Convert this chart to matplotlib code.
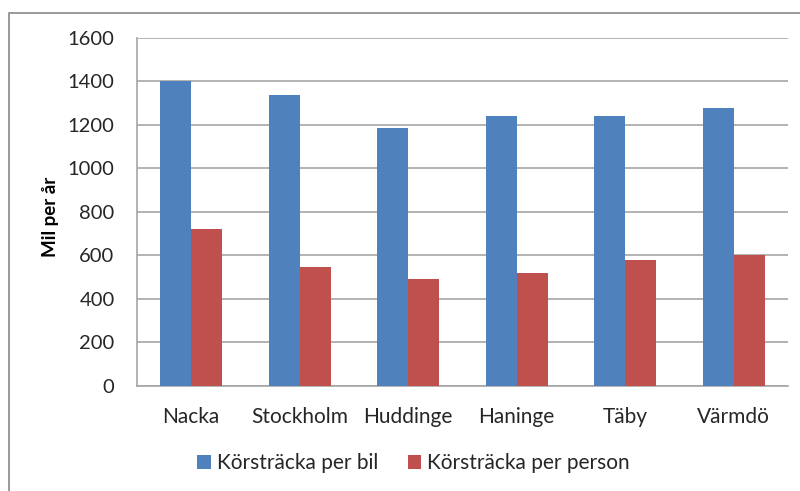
import numpy as np
import matplotlib.pyplot as plt
from matplotlib.patches import Rectangle

kommuner = ["Nacka", "Stockholm", "Huddinge", "Haninge", "Täby", "Värmdö"]
per_bil = [1400, 1335, 1187, 1239, 1239, 1278]
per_person = [720, 547, 491, 521, 580, 600]
serier = ["Körsträcka per bil", "Körsträcka per person"]
farger = ["#4F81BD", "#C0504D"]

plt.rcParams["font.family"] = ["Lato", "DejaVu Sans"]
textfarg = "#262626"

fig = plt.figure(figsize=(8, 4.91), dpi=100)
ax = fig.add_axes([0.171, 0.214, 0.814, 0.709])

x = np.arange(len(kommuner))
w = 0.2857
ax.bar(x - w / 2, per_bil, width=w, color=farger[0], label=serier[0], zorder=3)
ax.bar(x + w / 2, per_person, width=w, color=farger[1], label=serier[1], zorder=3)

ax.set_xlim(-0.5, len(kommuner) - 0.5)
ax.set_ylim(0, 1600)
ax.set_yticks(range(0, 1601, 200))
ax.set_xticks(x)
ax.set_xticklabels(kommuner, fontsize=15, color=textfarg)
ax.tick_params(axis="y", labelsize=14.5, length=0, pad=16, labelcolor=textfarg)
ax.tick_params(axis="x", length=0, pad=15)
ax.yaxis.grid(True, color="#a6a6a6", linewidth=1.2, zorder=0)
for s in ["top", "right"]:
    ax.spines[s].set_visible(False)
ax.spines["left"].set_color("#a6a6a6")
ax.spines["bottom"].set_color("#a6a6a6")
ax.spines["left"].set_linewidth(1.2)
ax.spines["bottom"].set_linewidth(1.2)

ax.set_ylabel("Mil per år", fontsize=13.5, fontweight="bold")
ax.yaxis.set_label_coords(-0.12, 0.486)

fig.legend(loc="center", bbox_to_anchor=(0.517, 0.057), ncol=2, frameon=False,
           fontsize=15, handlelength=0.65, handleheight=0.65, handletextpad=0.3,
           columnspacing=1.4, labelcolor=textfarg)

# ram runt diagrammet
fig.patches.append(Rectangle((8.5 / 800, -0.05), 1.0, 1 - 13 / 491 + 0.05,
                             transform=fig.transFigure, fill=False,
                             edgecolor="#888888", linewidth=1.2))

fig.savefig("out.png", dpi=100)
